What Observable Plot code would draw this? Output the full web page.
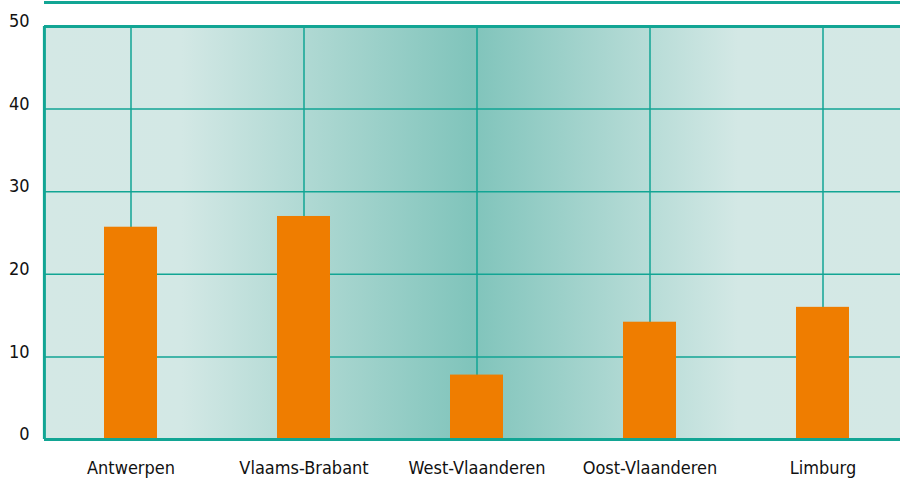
<!DOCTYPE html>
<html>
<head>
<meta charset="utf-8">
<script src="https://cdn.jsdelivr.net/npm/d3@7"></script>
<script src="https://cdn.jsdelivr.net/npm/@observablehq/plot@0.6"></script>
<style>
  html, body { margin: 0; padding: 0; background: #fff; overflow: hidden; }
  #chart { width: 900px; height: 478px; overflow: hidden; }
</style>
</head>
<body>
<div id="chart"></div>
<script>
const provinces = ["Antwerpen", "Vlaams-Brabant", "West-Vlaanderen", "Oost-Vlaanderen", "Limburg"];
const values = [25.7, 27.0, 7.8, 14.2, 16.0];
const yTicks = [0, 10, 20, 30, 40, 50];
const gridTicks = [10, 20, 30, 40];

const data = provinces.map((p, i) => ({province: p, value: values[i]}));

const teal = "#12a594";
const font = "'DejaVu Sans Condensed', 'DejaVu Sans', sans-serif";

const chart = Plot.plot({
  width: 900,
  height: 478,
  marginTop: 26,
  marginBottom: 39,
  marginLeft: 44,
  marginRight: 0,
  style: {fontFamily: font, fontStretch: "condensed", background: "transparent", overflow: "hidden"},
  x: {type: "band", domain: provinces, range: [43, 909], paddingInner: 0.694, paddingOuter: 0.347},
  y: {domain: [0, 50]},
  marks: [
    Plot.frame({fill: "url(#bgGrad)", stroke: "none"}),
    Plot.ruleY(gridTicks, {stroke: teal, strokeWidth: 1.5}),
    Plot.ruleX(provinces, {x: d => d, y1: 0, y2: 50, stroke: teal, strokeWidth: 1.5}),
    Plot.barY(data, {x: "province", y: "value", fill: "#ef7d00"}),
    Plot.ruleY([0, 50], {stroke: teal, strokeWidth: 3}),
    Plot.ruleY([50], {stroke: teal, strokeWidth: 3, dy: -24}),
    Plot.ruleX([0], {x: () => provinces[0], y1: 0, y2: 50, stroke: teal, strokeWidth: 3, dx: -86.6}),
    Plot.axisY(yTicks, {tickSize: 0, tickPadding: 15, fontSize: 18, dy: -5, fill: "#111", label: null}),
    Plot.axisX({tickSize: 0, tickPadding: 22, fontSize: 18, fill: "#111", label: null})
  ]
});

const svg = d3.select(chart.tagName === "svg" ? chart : chart.querySelector("svg"));
const defs = svg.insert("defs", ":first-child");
const grad = defs.append("linearGradient").attr("id", "bgGrad").attr("x1", "0").attr("x2", "1").attr("y1", "0").attr("y2", "0");
[[0, "#d4e8e5"], [0.16, "#d3e8e5"], [0.5, "#80c4bb"], [0.81, "#d3e8e5"], [1, "#d4e8e5"]]
  .forEach(([o, c]) => grad.append("stop").attr("offset", o).attr("stop-color", c));

document.getElementById("chart").appendChild(chart);
</script>
</body>
</html>
